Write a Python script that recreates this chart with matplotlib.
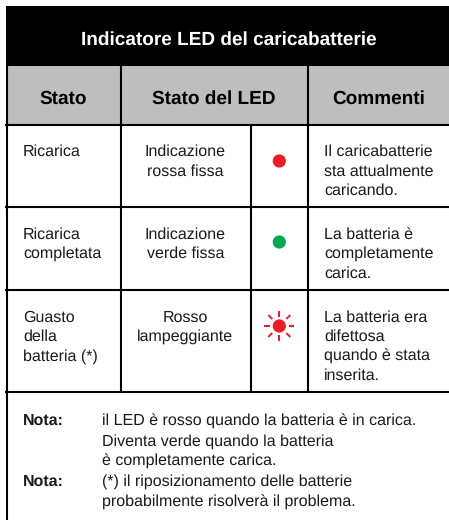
import matplotlib
matplotlib.use("Agg")
import matplotlib.pyplot as plt
from matplotlib.patches import Rectangle, Circle

plt.rcParams['font.family'] = ['Liberation Sans', 'DejaVu Sans']
plt.rcParams['text.hinting'] = 'no_hinting'
plt.rcParams['text.hinting_factor'] = 1

W, H = 449, 520
BLACK = "#000000"
GRAY = "#bebebe"
RED = "#ed1c24"
GREEN = "#00a651"

title = "Indicatore LED del caricabatterie"
headers = ["Stato", "Stato del LED", "Commenti"]
states = ["Ricarica", "Ricarica\ncompletata", "Guasto\ndella\nbatteria (*)"]
led_states = ["Indicazione\nrossa fissa", "Indicazione\nverde fissa", "Rosso\nlampeggiante"]
comments = ["Il caricabatterie\nsta attualmente\ncaricando.",
            "La batteria è\ncompletamente\ncarica.",
            "La batteria era\ndifettosa\nquando è stata\ninserita."]
led_colors = [RED, GREEN, RED]
led_blink = [False, False, True]
note_labels = ["Nota:", "Nota:"]
notes = ["il LED è rosso quando la batteria è in carica.\nDiventa verde quando la batteria\nè completamente carica.",
         "(*) il riposizionamento delle batterie\nprobabilmente risolverà il problema."]

# pixel layout of the table
col_x = [6.5, 121, 251, 308]
row_y = [66.5, 124.5, 206.5, 290, 391.5]
row_text_y = [144.5, 227, 310]
led_y = [161, 242, 326]
note_y = [413.5, 474.5]

fig = plt.figure(figsize=(W / 100, H / 100), dpi=100)
ax = fig.add_axes([0, 0, 1, 1])
ax.set_xlim(0, W)
ax.set_ylim(H, 0)
ax.axis("off")

ax.add_patch(Rectangle((6, 6), W - 6, 60, color=BLACK, lw=0))
ax.add_patch(Rectangle((6, 66), W - 6, 58, color=GRAY, lw=0))
ax.text(229, 39.5, title, color="white", fontsize=13.45, fontweight="bold", ha="center", va="center")

header_x = [63, 213.5, 379]
for x, h in zip(header_x, headers):
    ax.text(x, 98.5, h, color=BLACK, fontsize=13.45, fontweight="bold", ha="center", va="center")

# grid lines
lw = 1.5
for y in row_y[1:]:
    ax.plot([5, W], [y, y], color=BLACK, lw=lw, solid_capstyle="butt")
ax.plot([col_x[0], col_x[0]], [6, H], color=BLACK, lw=lw, solid_capstyle="butt")
for x in [col_x[1], col_x[3]]:
    ax.plot([x, x], [66, row_y[-1]], color=BLACK, lw=lw, solid_capstyle="butt")
ax.plot([col_x[2], col_x[2]], [row_y[1], row_y[-1]], color=BLACK, lw=lw, solid_capstyle="butt")

fs = 11.25
ls = 1.39
for i in range(3):
    ax.text(23, row_text_y[i], states[i], color="#1a1a1a", fontsize=fs, linespacing=ls, ha="left", va="top")
    ax.text(185.5, row_text_y[i], led_states[i], color="#1a1a1a", fontsize=fs, linespacing=ls, ha="center", va="top", multialignment="center")
    ax.text(324, row_text_y[i], comments[i], color="#1a1a1a", fontsize=fs, linespacing=ls, ha="left", va="top")
    ax.add_patch(Circle((279.3, led_y[i]), 6.6, color=led_colors[i], lw=0))
    if led_blink[i]:
        for dx, dy in [(0, -1), (0, 1), (-1, 0), (1, 0)]:
            ax.plot([279.3 + dx * 9.2, 279.3 + dx * 15], [led_y[i] + dy * 9.2, led_y[i] + dy * 15], color=RED, lw=1.5, solid_capstyle="butt")
        for dx, dy in [(1, 1), (1, -1), (-1, 1), (-1, -1)]:
            ax.plot([279.3 + dx * 7, 279.3 + dx * 11], [led_y[i] + dy * 7, led_y[i] + dy * 11], color=RED, lw=1.4, solid_capstyle="butt")

for y, lab, note in zip(note_y, note_labels, notes):
    ax.text(23, y, lab, color="#1a1a1a", fontsize=fs, fontweight="bold", ha="left", va="top")
    ax.text(102, y, note, color="#1a1a1a", fontsize=fs, linespacing=1.46, ha="left", va="top")

fig.savefig("out.png", dpi=100)
